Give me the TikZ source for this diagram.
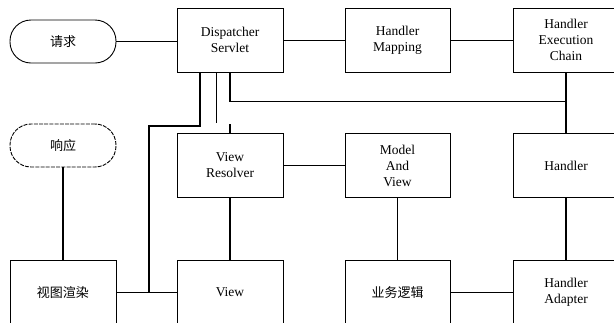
\documentclass[tikz,border=0pt]{standalone}
\usepackage{fontspec}
\setmainfont{Liberation Serif}
\newfontfamily\cjk{Noto Sans CJK SC}
\begin{document}
\begin{tikzpicture}[x=1pt,y=-1pt,
  box/.style={draw,line width=0.9pt,minimum width=106pt,minimum height=64pt,align=center,inner sep=1pt,font=\fontsize{13.5}{16}\selectfont},
  pill/.style={draw,line width=0.9pt,rounded corners=21pt,minimum width=106pt,minimum height=43pt,font=\fontsize{13}{16}\selectfont\cjk},
  cn/.style={font=\fontsize{13}{16}\selectfont\cjk},
  thin/.style={line width=0.7pt},
  thk/.style={line width=1.3pt}]
\useasboundingbox (0,0) rectangle (614,322);
\clip (0,0) rectangle (614,322);
% row 1
\node[pill] (req) at (63,41.5) {请求};
\node[box] (ds) at (230,40) {Dispatcher\\Servlet};
\node[box,minimum width=105pt] (hm) at (397.5,40) {Handler\\Mapping};
\node[box] (hec) at (566,40) {Handler\\Execution\\Chain};
% row 2
\node[pill,dash pattern=on 4pt off 1.2pt] (resp) at (63,145.5) {响应};
\node[box] (vr) at (230,165.5) {View\\Resolver};
\node[box,minimum width=105pt] (mav) at (397.5,165.5) {Model\\And\\View};
\node[box] (h) at (566,165.5) {Handler};
% row 3
\node[box,cn] (render) at (63,292.5) {视图渲染};
\node[box] (view) at (230,292.5) {View};
\node[box,cn,minimum width=105pt] (biz) at (397.5,292.5) {业务逻辑};
\node[box] (ha) at (566,292.5) {Handler\\Adapter};
% junction coordinates
\coordinate (bend) at (149,126);
\coordinate (stubend) at (216,123);
\coordinate (stubtop) at (230,124);
\coordinate (hecjoin) at (566,101.5);
% connectors
\draw[thin] (req.east) -- (req.east -| ds.west);
\draw[thin] (ds.east) -- (hm.west);
\draw[thin] (hm.east) -- (hec.west);
\draw[thk] (ds.south) |- (hecjoin);
\draw[thk] (hec.south) -- (h.north);
\draw[thk] ([xshift=-30pt]ds.south) |- (bend) -- (bend |- render.east);
\draw[thin] ([xshift=-14pt]ds.south) -- (stubend);
\draw[thk] (stubtop) -- (vr.north);
\draw[thk] (vr.east) -- (mav.west);
\draw[thk] (vr.south) -- (view.north);
\draw[thin] (mav.south) -- (biz.north);
\draw[thk] (h.south) -- (ha.north);
\draw[thk] (resp.south) -- (render.north);
\draw[thk] (render.east) -- (view.west);
\draw[thk] (biz.east) -- (ha.west);
\end{tikzpicture}
\end{document}
